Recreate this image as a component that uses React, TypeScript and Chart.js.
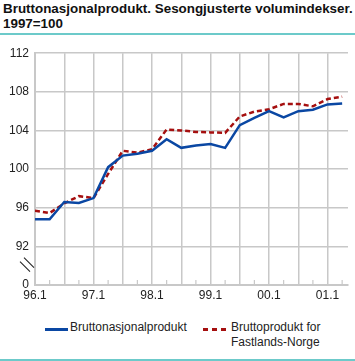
import React, { useEffect, useRef } from "react";
import { Chart, registerables } from "chart.js";

Chart.register(...registerables);

const quarters = [
  "96.1", "96.2", "96.3", "96.4",
  "97.1", "97.2", "97.3", "97.4",
  "98.1", "98.2", "98.3", "98.4",
  "99.1", "99.2", "99.3", "99.4",
  "00.1", "00.2", "00.3", "00.4",
  "01.1", "01.2",
];

const bnp = [
  94.8, 94.8, 96.6, 96.5, 97.0, 100.2, 101.4, 101.6, 101.9, 103.1, 102.2,
  102.45, 102.6, 102.2, 104.55, 105.3, 106.0, 105.35, 106.0, 106.15, 106.7, 106.8,
];

const fastland = [
  95.7, 95.45, 96.45, 97.2, 97.0, 99.5, 101.9, 101.7, 102.05, 104.1, 104.0,
  103.85, 103.8, 103.75, 105.45, 105.95, 106.2, 106.75, 106.75, 106.5, 107.25, 107.5,
];

const yTicks = [88, 92, 96, 100, 104, 108, 112];
const yTickLabels = ["0", "92", "96", "100", "104", "108", "112"];

const title1 = "Bruttonasjonalprodukt. Sesongjusterte volumindekser.";
const title2 = "1997=100";
const legendBnp = "Bruttonasjonalprodukt";
const legendFast1 = "Bruttoprodukt for";
const legendFast2 = "Fastlands-Norge";

const BLUE = "#0a47a3";
const RED = "#a50f0f";
const GRID = "#c8c8c8";
const TEAL = "#6ccaca";
const FONT = "'Liberation Sans', Arial, sans-serif";

const extrasPlugin = {
  id: "extras",
  afterDraw(chart: any) {
    const { ctx, chartArea, scales } = chart;
    const xs = scales.x;
    ctx.save();
    // short quarter ticks rising from the bottom axis
    ctx.strokeStyle = GRID;
    ctx.lineWidth = 1.2;
    for (let i = 1; i < quarters.length; i += 2) {
      const px = xs.getPixelForValue(i);
      ctx.beginPath();
      ctx.moveTo(px, chartArea.bottom);
      ctx.lineTo(px, chartArea.bottom - 5);
      ctx.stroke();
    }
    // axis break marks
    const ys = scales.y;
    const yb = (ys.getPixelForValue(88) + ys.getPixelForValue(92)) / 2;
    const xl = chartArea.left;
    ctx.strokeStyle = "#222";
    ctx.lineWidth = 1.1;
    for (const off of [-2, 2]) {
      ctx.beginPath();
      ctx.moveTo(xl - 13 + off, yb - 6 - off);
      ctx.lineTo(xl - 3 + off, yb + 4 - off);
      ctx.stroke();
    }
    ctx.restore();
  },
};

function ChartView() {
  const ref = useRef<HTMLCanvasElement>(null);
  useEffect(() => {
    if (!ref.current) return;
    const chart = new Chart(ref.current, {
      type: "line",
      data: {
        datasets: [
          {
            label: legendBnp,
            data: bnp.map((v, i) => ({ x: i, y: v })),
            borderColor: BLUE,
            borderWidth: 2.5,
            pointRadius: 0,
            tension: 0,
            order: 1,
          },
          {
            label: legendFast1 + " " + legendFast2,
            data: fastland.map((v, i) => ({ x: i, y: v })),
            borderColor: RED,
            borderWidth: 2.5,
            borderDash: [5, 3],
            pointRadius: 0,
            tension: 0,
            order: 2,
          },
        ],
      },
      options: {
        animation: false,
        responsive: false,
        maintainAspectRatio: false,
        layout: { padding: { top: 11, right: 7, left: 0, bottom: 0 } },
        plugins: {
          legend: { display: false },
          title: { display: false },
          tooltip: { enabled: false },
        },
        scales: {
          x: {
            type: "linear",
            min: 0,
            max: 21.4,
            afterBuildTicks: (scale: any) => {
              scale.ticks = quarters
                .map((_, i) => i)
                .filter((i) => i % 2 === 0)
                .map((i) => ({ value: i }));
            },
            afterFit: (scale: any) => {
              scale.height = 20;
            },
            ticks: {
              autoSkip: false,
              maxRotation: 0,
              padding: 3,
              color: "#222",
              font: { family: FONT, size: 12 },
              callback: (v: any) => (Number(v) % 4 === 0 ? quarters[Number(v)] : ""),
            },
            grid: {
              color: GRID,
              lineWidth: 1.5,
              drawTicks: false,
            },
            border: { color: GRID, width: 2 },
          },
          y: {
            type: "linear",
            min: 88,
            max: 112,
            afterBuildTicks: (scale: any) => {
              scale.ticks = yTicks.map((v) => ({ value: v }));
            },
            afterFit: (scale: any) => {
              scale.width = 35;
            },
            ticks: {
              padding: 6,
              color: "#222",
              font: { family: FONT, size: 12 },
              callback: (v: any) => {
                const idx = yTicks.indexOf(Number(v));
                return idx >= 0 ? yTickLabels[idx] : "";
              },
            },
            grid: {
              color: (c: any) => (c.tick && c.tick.value === 88 ? "rgba(0,0,0,0)" : GRID),
              lineWidth: 1.5,
              drawTicks: false,
            },
            border: { color: GRID, width: 2 },
          },
        },
      },
      plugins: [extrasPlugin],
    });
    return () => chart.destroy();
  }, []);
  return (
    <canvas
      ref={ref}
      width={355}
      height={265}
      style={{ position: "absolute", left: 0, top: 40, width: 355, height: 265 }}
    />
  );
}

export default function App() {
  const legendText: React.CSSProperties = {
    fontFamily: FONT,
    fontSize: 12,
    color: "#222",
    lineHeight: "15px",
    whiteSpace: "nowrap",
  };
  return (
    <div
      style={{
        position: "fixed",
        left: 0,
        top: 0,
        width: 355,
        height: 361,
        background: "#fff",
        overflow: "hidden",
      }}
    >
      <div
        style={{
          position: "absolute",
          left: 3,
          top: 1,
          fontFamily: "'Liberation Sans', Arial, sans-serif",
          fontWeight: "bold",
          fontSize: 13.4,
          lineHeight: "15px",
          color: "#111",
          whiteSpace: "nowrap",
        }}
      >
        <div>{title1}</div>
        <div>{title2}</div>
      </div>
      <div
        style={{
          position: "absolute",
          left: 0,
          top: 33,
          width: 355,
          height: 2,
          background: TEAL,
        }}
      />
      <ChartView />
      <div style={{ position: "absolute", left: 45, top: 328, width: 23, height: 2.5, background: BLUE }} />
      <div style={{ ...legendText, position: "absolute", left: 70, top: 320 }}>{legendBnp}</div>
      <div
        style={{
          position: "absolute",
          left: 203,
          top: 328,
          width: 23,
          height: 2.5,
          background: `repeating-linear-gradient(to right, ${RED} 0px, ${RED} 5px, transparent 5px, transparent 9px)`,
        }}
      />
      <div style={{ ...legendText, position: "absolute", left: 231, top: 320 }}>
        <div>{legendFast1}</div>
        <div>{legendFast2}</div>
      </div>
      <div
        style={{
          position: "absolute",
          left: 0,
          top: 359,
          width: 355,
          height: 2,
          background: TEAL,
        }}
      />
    </div>
  );
}
